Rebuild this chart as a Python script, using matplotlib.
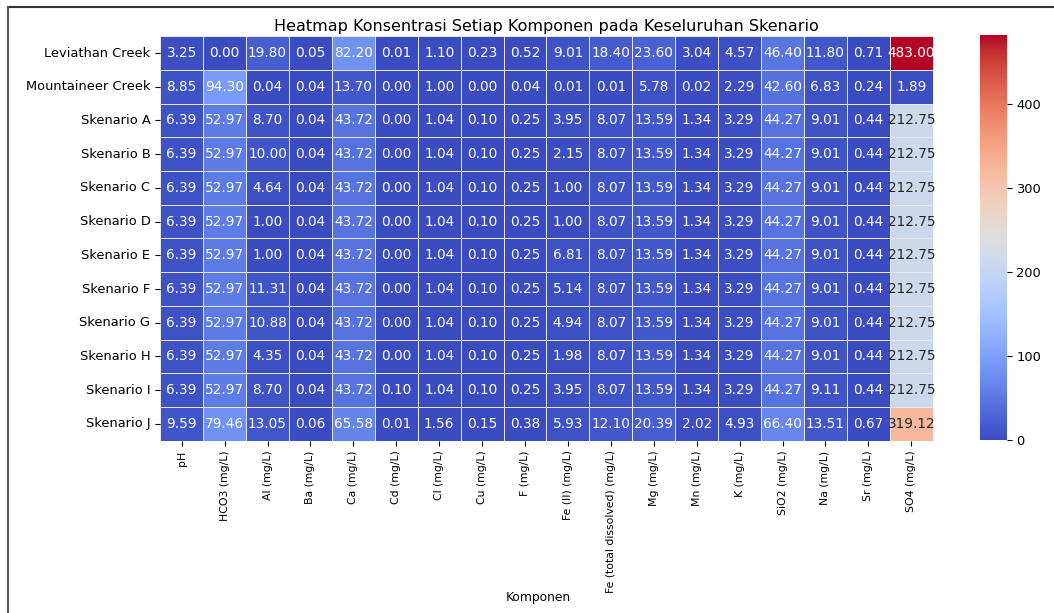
import matplotlib
matplotlib.use("Agg")
import matplotlib.pyplot as plt
from matplotlib.lines import Line2D
import seaborn as sns
import pandas as pd

skenario = ["Leviathan Creek", "Mountaineer Creek", "Skenario A", "Skenario B",
            "Skenario C", "Skenario D", "Skenario E", "Skenario F", "Skenario G",
            "Skenario H", "Skenario I", "Skenario J"]

komponen = ["pH", "HCO3 (mg/L)", "Al (mg/L)", "Ba (mg/L)", "Ca (mg/L)", "Cd (mg/L)",
            "Cl (mg/L)", "Cu (mg/L)", "F (mg/L)", "Fe (II) (mg/L)",
            "Fe (total dissolved) (mg/L)", "Mg (mg/L)", "Mn (mg/L)", "K (mg/L)",
            "SiO2 (mg/L)", "Na (mg/L)", "Sr (mg/L)", "SO4 (mg/L)"]

leviathan = [3.25, 0.00, 19.80, 0.05, 82.20, 0.01, 1.10, 0.23, 0.52, 9.01, 18.40, 23.60, 3.04, 4.57, 46.40, 11.80, 0.71, 483.00]
mountaineer = [8.85, 94.30, 0.04, 0.04, 13.70, 0.00, 1.00, 0.00, 0.04, 0.01, 0.01, 5.78, 0.02, 2.29, 42.60, 6.83, 0.24, 1.89]
sk_a = [6.39, 52.97, 8.70, 0.04, 43.72, 0.00, 1.04, 0.10, 0.25, 3.95, 8.07, 13.59, 1.34, 3.29, 44.27, 9.01, 0.44, 212.75]
sk_b = [6.39, 52.97, 10.00, 0.04, 43.72, 0.00, 1.04, 0.10, 0.25, 2.15, 8.07, 13.59, 1.34, 3.29, 44.27, 9.01, 0.44, 212.75]
sk_c = [6.39, 52.97, 4.64, 0.04, 43.72, 0.00, 1.04, 0.10, 0.25, 1.00, 8.07, 13.59, 1.34, 3.29, 44.27, 9.01, 0.44, 212.75]
sk_d = [6.39, 52.97, 1.00, 0.04, 43.72, 0.00, 1.04, 0.10, 0.25, 1.00, 8.07, 13.59, 1.34, 3.29, 44.27, 9.01, 0.44, 212.75]
sk_e = [6.39, 52.97, 1.00, 0.04, 43.72, 0.00, 1.04, 0.10, 0.25, 6.81, 8.07, 13.59, 1.34, 3.29, 44.27, 9.01, 0.44, 212.75]
sk_f = [6.39, 52.97, 11.31, 0.04, 43.72, 0.00, 1.04, 0.10, 0.25, 5.14, 8.07, 13.59, 1.34, 3.29, 44.27, 9.01, 0.44, 212.75]
sk_g = [6.39, 52.97, 10.88, 0.04, 43.72, 0.00, 1.04, 0.10, 0.25, 4.94, 8.07, 13.59, 1.34, 3.29, 44.27, 9.01, 0.44, 212.75]
sk_h = [6.39, 52.97, 4.35, 0.04, 43.72, 0.00, 1.04, 0.10, 0.25, 1.98, 8.07, 13.59, 1.34, 3.29, 44.27, 9.01, 0.44, 212.75]
sk_i = [6.39, 52.97, 8.70, 0.04, 43.72, 0.10, 1.04, 0.10, 0.25, 3.95, 8.07, 13.59, 1.34, 3.29, 44.27, 9.11, 0.44, 212.75]
sk_j = [9.59, 79.46, 13.05, 0.06, 65.58, 0.01, 1.56, 0.15, 0.38, 5.93, 12.10, 20.39, 2.02, 4.93, 66.40, 13.51, 0.67, 319.12]

df = pd.DataFrame([leviathan, mountaineer, sk_a, sk_b, sk_c, sk_d, sk_e, sk_f,
                   sk_g, sk_h, sk_i, sk_j], index=skenario, columns=komponen)

fig = plt.figure(figsize=(10.54, 6.13), dpi=100)
ax = fig.add_axes([0.152, 0.281, 0.733, 0.660])
cax = fig.add_axes([0.930, 0.283, 0.025, 0.660])

sns.heatmap(df, annot=True, fmt=".2f", cmap="coolwarm", linewidths=0.5,
            linecolor="#e8e8e8", ax=ax, cbar_ax=cax,
            annot_kws={"fontsize": 9.8})

ax.set_title("Heatmap Konsentrasi Setiap Komponen pada Keseluruhan Skenario",
             fontsize=11.5, pad=4)
ax.set_xlabel("Komponen", fontsize=8.8)
ax.xaxis.set_label_coords(0.49, -0.372)
ax.set_ylabel("")
ax.tick_params(axis="y", labelsize=9.4)
ax.tick_params(axis="x", labelsize=7.8)
plt.setp(ax.get_xticklabels(), rotation=90)
plt.setp(ax.get_yticklabels(), rotation=0)
cax.tick_params(labelsize=9.4)

# frame of the screenshot
fig.add_artist(Line2D([0.008, 1.0], [0.989, 0.989], color="#333333", lw=1.5))
fig.add_artist(Line2D([0.008, 0.008], [0.0, 0.989], color="#555555", lw=1.5))

fig.savefig("out.png", dpi=100)
